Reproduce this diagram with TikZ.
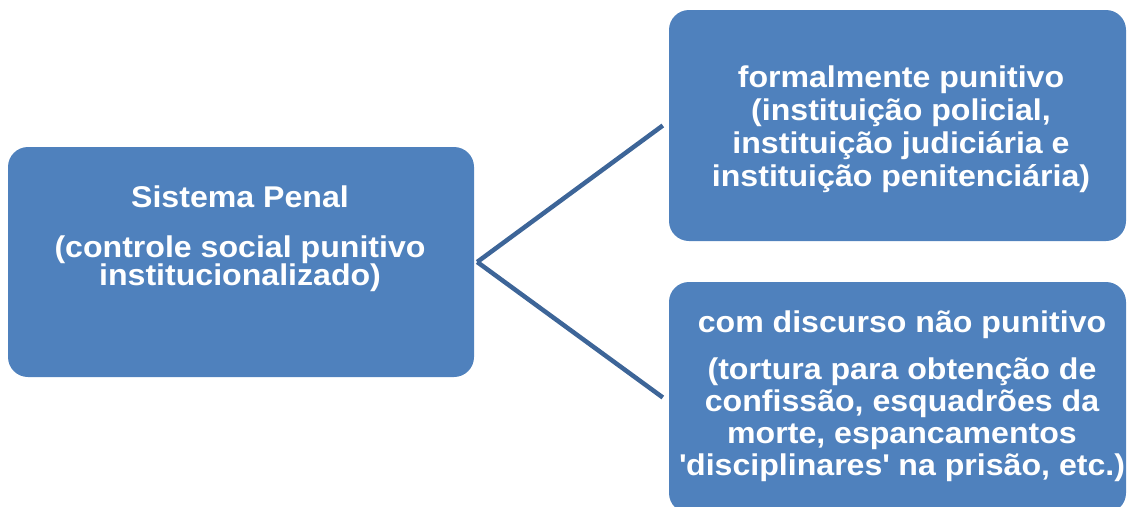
\documentclass[tikz,border=0pt]{standalone}
\usepackage{fontspec}
\setmainfont{Liberation Sans}[FakeStretch=1.07]
\usetikzlibrary{positioning}
\definecolor{boxblue}{RGB}{79,129,189}
\definecolor{lineblue}{RGB}{61,101,152}
\begin{document}
\begin{tikzpicture}
[x=1pt,y=-1pt,
  boxdecorate/.style={shape=rectangle,rounded corners=20pt,fill=boxblue,inner sep=0pt},%
  textdecorate/.style={text=white,align=center,inner sep=0pt,anchor=north},%
  linedecorate/.style={-,line width=4.5pt,draw=lineblue}]
\useasboundingbox (0,0) rectangle (1127,506);
\clip (0,0) rectangle (1127,506);
%% boxes
\node (penal) at (241,262) [boxdecorate,minimum width=466pt,minimum height=230pt] {};
\node (formal) at (897.5,125.5) [boxdecorate,minimum width=457pt,minimum height=231pt] {};
\node (naopun) at (897.5,397.5) [boxdecorate,minimum width=457pt,minimum height=231pt] {};
%% texts
\node (penaltext) at (240,186) [textdecorate,
  font={\bfseries\fontsize{30}{28.5}\selectfont\lineskiplimit-30pt}]
  {Sistema Penal\\[21pt](controle social punitivo\\institucionalizado)};
\node (formaltext) at (901,66) [textdecorate,
  font={\bfseries\fontsize{30}{33}\selectfont\lineskiplimit-30pt}]
  {formalmente punitivo\\(instituição policial,\\instituição judiciária e\\instituição penitenciária)};
\node (naopuntext) at (902,311) [textdecorate,
  font={\bfseries\fontsize{30}{32}\selectfont\lineskiplimit-30pt}]
  {com discurso não punitivo\\[15pt] (tortura para obtenção de\\confissão, esquadrões da\\morte, espancamentos\\\textquotesingle disciplinares\textquotesingle{} na prisão, etc.)};
%% lines
\coordinate (hub) at ([xshift=3pt]penal.east);
\path
\foreach \endnode in {formal, naopun} {
  (hub) edge[linedecorate] ([xshift=-6pt]\endnode.west)
};
\end{tikzpicture}
\end{document}
